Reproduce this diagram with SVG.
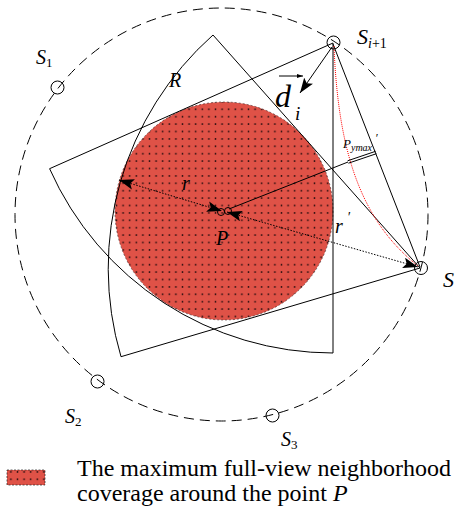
<svg xmlns="http://www.w3.org/2000/svg" width="456" height="509" viewBox="0 0 456 509">
<defs>
<pattern id="dots" patternUnits="userSpaceOnUse" width="6.6" height="7.4" x="1" y="2">
<rect width="6.6" height="7.4" fill="#df5247"/>
<circle cx="3.3" cy="3.7" r="0.9" fill="#2a0f0f"/>
</pattern>
<marker id="ah" viewBox="0 0 14 10" refX="14" refY="5" markerWidth="15" markerHeight="11" orient="auto-start-reverse" markerUnits="userSpaceOnUse">
<path d="M0,0 L14,5 L0,10 L3,5 Z" fill="#000"/>
</marker>
<marker id="sah" viewBox="0 0 6 4" refX="6" refY="2" markerWidth="6" markerHeight="4" orient="auto" markerUnits="userSpaceOnUse">
<path d="M0,0 L6,2 L0,4 Z" fill="#000"/>
</marker>
<style>
.ln{fill:none;stroke:#000;stroke-width:1}
.dot{fill:none;stroke:#000;stroke-width:1;stroke-dasharray:1.5 1.5}
.sen{fill:none;stroke:#000;stroke-width:1}
.it{font-family:"Liberation Serif","Times New Roman",serif;font-style:italic;fill:#000}
.rm{font-family:"Liberation Serif","Times New Roman",serif;fill:#000}
</style>
</defs>
<rect width="456" height="509" fill="#fff"/>

<g id="boundary">
<circle cx="221.5" cy="214.5" r="206.5" fill="none" stroke="#000" stroke-width="1" stroke-dasharray="10 6"/>
</g>

<g id="coverage">
<circle cx="224" cy="211" r="109" fill="url(#dots)" stroke="#3a1a1a" stroke-width="0.6" stroke-dasharray="2 2"/>
</g>

<g id="sector-S">
<path class="ln" d="M420 268 L213 35 A312 312 0 0 0 121 356.7 Z"/>
</g>
<g id="sector-Si1">
<path class="ln" d="M333 43 L49.6 168.7 A310 310 0 0 0 333 353 Z"/>
</g>

<g id="connectors">
<line class="ln" x1="333" y1="44" x2="420" y2="267"/>
<path d="M334 46 C338 150 360 220 418 266" fill="none" stroke="#ff0000" stroke-width="1" stroke-dasharray="1 1"/>
<line class="dot" x1="119" y1="180" x2="222" y2="211" marker-start="url(#ah)" marker-end="url(#ah)"/>
<line class="dot" x1="227" y1="212" x2="418" y2="267" marker-start="url(#ah)" marker-end="url(#ah)"/>
<line class="ln" x1="229" y1="209" x2="348" y2="162"/>
<line class="ln" x1="348.4" y1="163.2" x2="376.4" y2="153.7" stroke-width="0.8"/>
<line class="ln" x1="347.6" y1="160.8" x2="375.6" y2="151.3" stroke-width="0.8"/>
<line class="ln" x1="332" y1="47" x2="300" y2="93" marker-end="url(#ah)"/>
<line class="ln" x1="279" y1="76" x2="303" y2="76" stroke-width="0.8" marker-end="url(#sah)"/>
</g>

<g id="point-P">
<circle class="sen" cx="221" cy="212" r="3.5"/>
<circle class="sen" cx="228" cy="211" r="3.5"/>
</g>

<g id="sensor-Si1"><circle class="sen" cx="333.5" cy="42.5" r="6.5"/></g>
<g id="sensor-S"><circle class="sen" cx="421" cy="268" r="6.5"/></g>
<g id="sensor-S1"><circle class="sen" cx="57.5" cy="87.5" r="6.5"/></g>
<g id="sensor-S2"><circle class="sen" cx="97.5" cy="381.5" r="6.5"/></g>
<g id="sensor-S3"><circle class="sen" cx="272.5" cy="415.5" r="6.5"/></g>

<g id="labels">
<text class="it" x="357" y="44" font-size="22">S<tspan font-size="14" dy="4">i</tspan><tspan class="rm" font-style="normal" font-size="14">+1</tspan></text>
<text class="it" x="36" y="64" font-size="20">S<tspan font-style="normal" font-size="13" dy="3">1</tspan></text>
<text class="it" x="65" y="423" font-size="20">S<tspan font-style="normal" font-size="13" dy="3">2</tspan></text>
<text class="it" x="281" y="446" font-size="20">S<tspan font-style="normal" font-size="13" dy="3">3</tspan></text>
<text class="it" x="443" y="287" font-size="22">S</text>
<text class="it" x="169" y="87" font-size="20">R</text>
<text class="it" x="182" y="190" font-size="20">r</text>
<text class="it" x="216" y="245" font-size="20">P</text>
<text class="it" x="335" y="233" font-size="20">r</text>
<text class="it" x="347" y="222" font-size="14">′</text>
<text class="it" x="343" y="148" font-size="13">P<tspan font-size="10" dy="3">ymax</tspan></text>
<text class="it" x="375" y="142" font-size="12">′</text>
<text class="it" x="275" y="107" font-size="32">d</text>
<text class="it" x="295" y="120" font-size="19">i</text>
</g>

<g id="legend">
<rect x="7" y="470" width="38" height="15" fill="url(#dots)" stroke="#222" stroke-width="0.7" stroke-dasharray="2 1.5"/>
<text class="rm" x="77" y="476" font-size="24">The maximum full-view neighborhood</text>
<text class="rm" x="77" y="501" font-size="24">coverage around the point <tspan font-style="italic">P</tspan></text>
</g>
</svg>
